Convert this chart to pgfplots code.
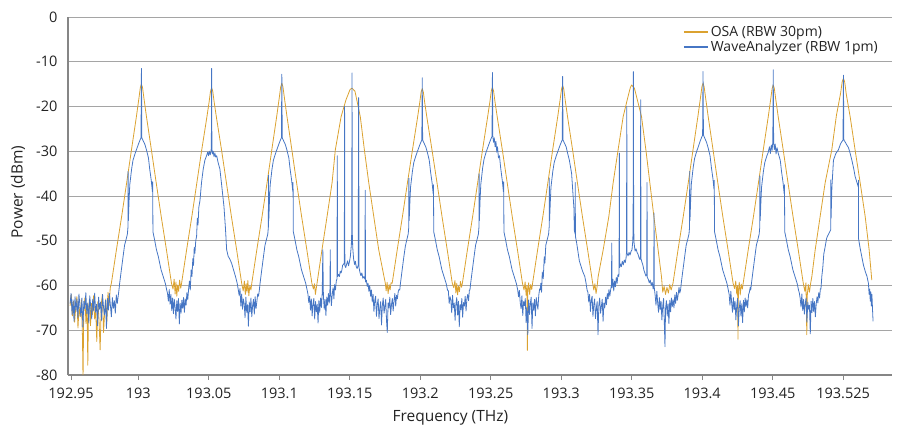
\documentclass[border=0pt]{standalone}
\usepackage{pgfplots}
\pgfplotsset{compat=1.18}
\usepackage{fontspec}
\setmainfont{Open Sans}
\definecolor{osa}{RGB}{219,162,48}
\definecolor{wa}{RGB}{70,118,196}
\definecolor{axgray}{RGB}{134,134,134}
\definecolor{gridgray}{RGB}{165,165,165}
\definecolor{txt}{RGB}{35,35,35}
\begin{document}
\begin{tikzpicture}
\begin{axis}[
  scale only axis, width=824pt, height=358pt,
  xmin=192.9499, xmax=193.5368, ymin=-80, ymax=0,
  axis lines*=left,
  axis line style={draw=axgray, line width=1.5pt},
  xtick={192.9521,193,193.0502,193.1004,193.1506,193.2008,193.2510,193.3012,193.3514,193.4016,193.4518,193.5020},
  xticklabels={192.95,193,193.05,193.1,193.15,193.2,193.25,193.3,193.35,193.4,193.45,193.525},
  ytick={-80,-70,-60,-50,-40,-30,-20,-10,0},
  yticklabels={-80,-70,-60,-50,-40,-30,-20,-10,0},
  ymajorgrids, grid style={draw=gridgray, line width=0.9pt},
  ytick style={draw=none},
  xtick style={draw=axgray, line width=0.9pt},
  tick align=outside, major tick length=5pt,
  ticklabel style={font=\fontsize{14.5}{16}\selectfont, text=txt},
  xticklabel style={yshift=-4pt},
  yticklabel style={xshift=-2pt},
  xlabel={Frequency (THz)}, ylabel={Power (dBm)},
  label style={font=\fontsize{15.5}{17}\selectfont, text=txt},
  xlabel style={at={(axis description cs:0.464,-0.12)}, anchor=center},
  ylabel style={at={(axis description cs:-0.0607,0.511)}, anchor=center},
  legend style={at={(0.7427,0.986)}, anchor=north west, draw=none, fill=none,
    font=\fontsize{14}{16}\selectfont, text=txt, row sep=-1pt},
  legend cell align=left,
  legend image code/.code={\draw[#1, line width=1.6pt] (0pt,0pt) -- (24pt,0pt);},
]
% OSA trace
\addplot[osa, line width=0.8pt, line join=round] coordinates {
(192.9514,-64.5) (192.9522,-62.0) (192.9530,-66.8) (192.9538,-63.5) (192.9546,-68.2) (192.9554,-65.0)
(192.9562,-62.5) (192.9570,-69.5) (192.9578,-64.8) (192.9586,-67.0) (192.9594,-63.2) (192.9602,-71.5)
(192.9606,-81.0) (192.9611,-66.0) (192.9619,-62.8) (192.9627,-68.5) (192.9635,-64.0) (192.9640,-77.8)
(192.9645,-65.5) (192.9652,-63.0) (192.9659,-69.0) (192.9666,-64.0) (192.9673,-66.5) (192.9681,-62.3)
(192.9689,-67.5) (192.9697,-65.8) (192.9704,-72.5) (192.9712,-63.6) (192.9720,-67.8) (192.9728,-74.4)
(192.9736,-64.2) (192.9744,-62.0) (192.9752,-70.5) (192.9760,-66.0) (192.9768,-63.0) (192.9776,-68.0)
(192.9784,-61.5) (192.9792,-64.5) (192.9800,-60.5)
(192.9808,-59.5) (192.9844,-52.0) (192.9881,-44.6) (192.9917,-37.0) (192.9951,-29.7) (192.9986,-22.3)
(193.0004,-18.2) (193.0014,-15.8) (193.0022,-15.0) (193.0030,-15.8) (193.0040,-18.2) (193.0058,-22.3)
(193.0093,-29.7) (193.0127,-37.0) (193.0163,-44.6) (193.0200,-52.0) (193.0236,-59.5)
(193.0247,-60.8) (193.0255,-58.6) (193.0262,-61.9) (193.0268,-59.2) (193.0274,-62.4) (193.0280,-59.9)
(193.0287,-61.3) (193.0294,-58.8) (193.0302,-60.6)
(193.0308,-59.5) (193.0344,-52.0) (193.0381,-44.6) (193.0417,-37.0) (193.0451,-29.8) (193.0486,-22.8)
(193.0504,-19.0) (193.0514,-16.6) (193.0522,-15.8) (193.0530,-16.6) (193.0540,-19.0) (193.0558,-22.8)
(193.0593,-29.8) (193.0627,-37.0) (193.0663,-44.6) (193.0700,-52.0) (193.0736,-59.5)
(193.0747,-61.2) (193.0755,-59.0) (193.0762,-62.0) (193.0768,-59.6) (193.0774,-61.5) (193.0780,-58.9)
(193.0787,-62.3) (193.0794,-60.1) (193.0802,-61.0)
(193.0808,-59.5) (193.0844,-52.0) (193.0881,-44.6) (193.0917,-37.0) (193.0951,-29.6) (193.0986,-22.1)
(193.1004,-18.0) (193.1014,-15.6) (193.1022,-14.8) (193.1030,-15.6) (193.1040,-18.0) (193.1058,-22.1)
(193.1093,-29.6) (193.1127,-37.0) (193.1163,-44.6) (193.1200,-52.0) (193.1236,-59.5)
(193.1247,-60.8) (193.1255,-59.6)
(193.1261,-62.0) (193.1308,-52.0) (193.1344,-44.6) (193.1380,-37.0) (193.1403,-29.7) (193.1444,-22.3)
(193.1479,-18.5) (193.1508,-16.2) (193.1522,-15.9) (193.1543,-16.6) (193.1581,-22.3) (193.1610,-29.7)
(193.1641,-37.0) (193.1677,-44.6) (193.1712,-52.0) (193.1759,-59.5)
(193.1765,-61.2) (193.1772,-59.3) (193.1779,-61.8) (193.1786,-59.8) (193.1793,-61.0) (193.1800,-59.4)
(193.1808,-59.5) (193.1844,-52.0) (193.1881,-44.6) (193.1917,-37.0) (193.1951,-30.0) (193.1986,-23.0)
(193.2004,-19.2) (193.2014,-16.8) (193.2022,-16.0) (193.2030,-16.8) (193.2040,-19.2) (193.2058,-23.0)
(193.2093,-30.0) (193.2127,-37.0) (193.2163,-44.6) (193.2200,-52.0) (193.2236,-59.5)
(193.2247,-60.5) (193.2255,-58.9) (193.2262,-61.7) (193.2268,-59.5) (193.2274,-62.1) (193.2280,-60.2)
(193.2287,-61.4) (193.2294,-59.1) (193.2302,-60.4)
(193.2308,-59.5) (193.2344,-52.0) (193.2381,-44.6) (193.2417,-37.0) (193.2451,-29.8) (193.2486,-22.7)
(193.2504,-18.9) (193.2514,-16.5) (193.2522,-15.7) (193.2530,-16.5) (193.2540,-18.9) (193.2558,-22.7)
(193.2593,-29.8) (193.2627,-37.0) (193.2663,-44.6) (193.2700,-52.0) (193.2736,-59.5)
(193.2747,-61.0) (193.2755,-59.2) (193.2762,-62.2) (193.2768,-60.0) (193.2771,-74.5) (193.2774,-61.6)
(193.2780,-59.4) (193.2787,-62.0) (193.2794,-59.8) (193.2802,-60.9)
(193.2808,-59.5) (193.2844,-52.0) (193.2881,-44.6) (193.2917,-37.0) (193.2951,-29.7) (193.2986,-22.5)
(193.3004,-18.5) (193.3014,-16.1) (193.3022,-15.3) (193.3030,-16.1) (193.3040,-18.5) (193.3058,-22.5)
(193.3093,-29.7) (193.3127,-37.0) (193.3163,-44.6) (193.3200,-52.0) (193.3236,-59.5)
(193.3244,-61.0) (193.3252,-59.6) (193.3260,-61.8) (193.3268,-60.1)
(193.3275,-58.0) (193.3311,-52.0) (193.3351,-44.6) (193.3382,-37.0) (193.3417,-29.7) (193.3453,-22.3)
(193.3486,-18.0) (193.3504,-15.8) (193.3513,-15.2) (193.3533,-15.9) (193.3554,-18.5) (193.3584,-22.3)
(193.3615,-29.7) (193.3643,-37.0) (193.3672,-44.6) (193.3702,-52.0) (193.3726,-58.0)
(193.3735,-61.5) (193.3745,-60.2) (193.3755,-62.0) (193.3765,-60.4) (193.3775,-61.7) (193.3785,-59.8)
(193.3795,-61.0)
(193.3808,-59.5) (193.3844,-52.0) (193.3881,-44.6) (193.3917,-37.0) (193.3951,-29.6) (193.3986,-22.1)
(193.4004,-18.0) (193.4014,-15.6) (193.4022,-14.8) (193.4030,-15.6) (193.4040,-18.0) (193.4058,-22.1)
(193.4093,-29.6) (193.4127,-37.0) (193.4163,-44.6) (193.4200,-52.0) (193.4236,-59.5)
(193.4247,-60.7) (193.4255,-59.0) (193.4262,-61.9) (193.4268,-60.0) (193.4271,-72.0) (193.4274,-61.2)
(193.4280,-59.3) (193.4287,-62.1) (193.4294,-59.7) (193.4302,-60.8)
(193.4308,-59.5) (193.4344,-52.0) (193.4381,-44.6) (193.4417,-37.0) (193.4451,-29.7) (193.4486,-22.4)
(193.4504,-18.4) (193.4514,-16.0) (193.4522,-15.2) (193.4530,-16.0) (193.4540,-18.4) (193.4558,-22.4)
(193.4593,-29.7) (193.4627,-37.0) (193.4663,-44.6) (193.4700,-52.0) (193.4736,-59.5)
(193.4747,-61.3) (193.4755,-59.4) (193.4761,-71.0) (193.4765,-62.0) (193.4772,-59.8) (193.4780,-61.5)
(193.4788,-59.6)
(193.4797,-58.0) (193.4821,-52.0) (193.4856,-44.6) (193.4892,-37.0) (193.4939,-29.7) (193.4972,-22.0)
(193.5002,-17.0) (193.5013,-14.5) (193.5022,-13.7) (193.5031,-14.5) (193.5042,-17.2) (193.5070,-22.3)
(193.5105,-29.7) (193.5141,-37.0) (193.5177,-44.6) (193.5205,-52.0) (193.5224,-58.8)
};
\addlegendentry{OSA (RBW 30pm)}
% WaveAnalyzer trace
\addplot[wa, line width=0.8pt, line join=round] coordinates {
(192.9514,-64.0) (192.9521,-61.8) (192.9528,-66.5) (192.9535,-63.2) (192.9542,-68.0) (192.9549,-62.5)
(192.9556,-65.8) (192.9563,-63.0) (192.9570,-67.2) (192.9577,-61.9) (192.9584,-64.6) (192.9591,-66.9)
(192.9598,-62.8) (192.9605,-69.3) (192.9612,-63.5) (192.9619,-65.2) (192.9626,-61.6) (192.9633,-66.3)
(192.9640,-63.9) (192.9647,-68.4) (192.9654,-62.3) (192.9661,-64.8) (192.9668,-67.5) (192.9675,-63.1)
(192.9682,-65.6) (192.9689,-61.7) (192.9696,-66.0) (192.9703,-64.2) (192.9710,-69.0) (192.9717,-62.6)
(192.9724,-65.3) (192.9731,-63.7) (192.9738,-67.8) (192.9745,-62.0) (192.9752,-64.9) (192.9759,-66.6)
(192.9766,-63.3) (192.9773,-69.6) (192.9780,-62.9) (192.9787,-65.5) (192.9794,-61.8) (192.9801,-64.4)
(192.9808,-67.0) (192.9815,-62.7) (192.9822,-65.1) (192.9829,-63.4) (192.9836,-66.2) (192.9843,-62.1)
(192.9850,-64.0) (192.9856,-62.5)
(192.9862,-61.0) (192.9867,-59.5) (192.9877,-57.0) (192.9891,-53.6) (192.9902,-51.0) (192.9912,-49.8)
(192.9922,-48.5) (192.9926,-47.0) (192.9927,-34.5) (192.9929,-45.5) (192.9934,-41.0) (192.9939,-37.5)
(192.9952,-34.0) (192.9962,-32.0) (192.9977,-30.5) (192.9986,-29.7) (193.0002,-28.3) (193.0012,-27.5)
(193.0019,-27.0) (193.0022,-11.5) (193.0025,-27.0) (193.0032,-27.5) (193.0047,-28.5) (193.0058,-29.7)
(193.0072,-31.5) (193.0081,-34.0) (193.0092,-36.5) (193.0100,-39.0) (193.0102,-36.8) (193.0104,-48.0)
(193.0117,-50.0) (193.0129,-52.0) (193.0142,-53.5) (193.0152,-55.0) (193.0162,-56.5) (193.0177,-58.0)
(193.0192,-59.5) (193.0202,-61.0)
(193.0208,-61.8) (193.0214,-63.5) (193.0220,-60.9) (193.0226,-64.2) (193.0232,-62.0) (193.0238,-65.6)
(193.0244,-62.8) (193.0250,-66.3) (193.0256,-63.1) (193.0262,-64.9) (193.0268,-67.5) (193.0274,-63.4)
(193.0280,-65.8) (193.0286,-62.9) (193.0292,-68.6) (193.0298,-64.0) (193.0304,-66.2) (193.0310,-63.3)
(193.0316,-65.1) (193.0322,-62.7) (193.0328,-66.0) (193.0334,-63.0) (193.0340,-64.4) (193.0346,-61.6)
(193.0352,-63.2) (193.0358,-60.8)
(193.0364,-59.0) (193.0370,-61.0) (193.0376,-56.5) (193.0382,-58.0) (193.0388,-54.0) (193.0393,-55.5)
(193.0398,-51.5) (193.0403,-52.8) (193.0409,-50.0) (193.0415,-49.0) (193.0420,-45.0) (193.0425,-46.5)
(193.0431,-42.5) (193.0439,-41.0) (193.0450,-37.0) (193.0462,-34.0) (193.0474,-32.0) (193.0486,-31.0)
(193.0494,-30.2) (193.0500,-31.0) (193.0506,-30.0) (193.0512,-30.8) (193.0517,-30.2) (193.0520,-29.0)
(193.0522,-11.5) (193.0524,-29.5) (193.0528,-30.6) (193.0533,-30.0) (193.0539,-31.2) (193.0545,-30.4)
(193.0551,-31.3) (193.0558,-31.0) (193.0568,-32.5) (193.0581,-34.0) (193.0595,-38.0) (193.0610,-42.4)
(193.0620,-47.0) (193.0629,-52.0) (193.0640,-53.5) (193.0650,-54.0) (193.0664,-55.0) (193.0678,-56.5)
(193.0692,-58.0) (193.0704,-59.5) (193.0712,-61.0)
(193.0718,-62.2) (193.0724,-60.7) (193.0730,-64.6) (193.0736,-61.9) (193.0742,-65.3) (193.0748,-63.0)
(193.0754,-64.1) (193.0760,-67.2) (193.0766,-62.6) (193.0772,-66.0) (193.0778,-64.3) (193.0784,-69.1)
(193.0790,-63.7) (193.0796,-65.9) (193.0802,-62.8) (193.0808,-67.0) (193.0814,-64.5) (193.0820,-63.1)
(193.0826,-66.4) (193.0832,-62.5) (193.0838,-65.2) (193.0844,-63.6) (193.0850,-61.9) (193.0856,-62.4)
(193.0862,-61.0) (193.0867,-59.5) (193.0877,-57.0) (193.0891,-53.6) (193.0902,-51.0) (193.0912,-49.8)
(193.0922,-48.5) (193.0926,-47.0) (193.0927,-35.3) (193.0929,-45.5) (193.0934,-41.0) (193.0939,-37.5)
(193.0952,-34.0) (193.0962,-32.0) (193.0977,-30.5) (193.0986,-29.7) (193.1002,-28.3) (193.1012,-27.5)
(193.1019,-27.0) (193.1022,-12.8) (193.1025,-27.0) (193.1032,-27.5) (193.1047,-28.5) (193.1058,-29.7)
(193.1072,-31.5) (193.1081,-34.0) (193.1092,-36.5) (193.1100,-39.0) (193.1102,-37.0) (193.1104,-48.0)
(193.1117,-50.0) (193.1129,-52.0) (193.1142,-53.5) (193.1152,-55.0) (193.1162,-56.5) (193.1177,-58.0)
(193.1192,-59.5) (193.1202,-61.0)
(193.1208,-61.9) (193.1214,-63.8) (193.1220,-62.4) (193.1226,-65.5) (193.1232,-63.0) (193.1238,-66.8)
(193.1244,-64.1) (193.1250,-62.9) (193.1256,-67.5) (193.1262,-63.6) (193.1268,-65.9) (193.1274,-64.2)
(193.1280,-68.4) (193.1286,-63.4) (193.1292,-66.0) (193.1298,-62.8) (193.1304,-64.9) (193.1310,-61.5)
(193.1314,-52.0) (193.1318,-62.2) (193.1324,-65.3) (193.1330,-63.1) (193.1336,-66.7) (193.1342,-62.6)
(193.1348,-64.4) (193.1354,-61.8) (193.1360,-63.9) (193.1365,-60.5) (193.1367,-52.0) (193.1369,-61.2)
(193.1375,-64.5) (193.1381,-62.0) (193.1387,-60.5) (193.1393,-63.0) (193.1398,-59.8) (193.1404,-61.0)
(193.1410,-59.0) (193.1415,-58.5) (193.1417,-31.0) (193.1419,-58.0) (193.1425,-57.5) (193.1432,-58.0)
(193.1438,-56.8) (193.1444,-57.2) (193.1450,-56.5) (193.1455,-55.5) (193.1467,-55.0) (193.1469,-20.0)
(193.1471,-55.5) (193.1477,-56.0) (193.1484,-55.2) (193.1490,-54.5) (193.1497,-55.6) (193.1503,-54.8)
(193.1510,-53.5) (193.1517,-51.0) (193.1520,-48.0) (193.1522,-12.5) (193.1524,-48.5) (193.1527,-51.5)
(193.1533,-54.0) (193.1540,-55.3) (193.1546,-54.6) (193.1552,-55.8) (193.1558,-56.2) (193.1566,-55.5)
(193.1569,-18.0) (193.1572,-56.0) (193.1578,-57.0) (193.1585,-57.8) (193.1592,-57.2) (193.1599,-58.4)
(193.1606,-58.0) (193.1614,-58.6) (193.1616,-38.7) (193.1618,-59.2) (193.1624,-58.8) (193.1630,-60.2)
(193.1636,-59.5) (193.1642,-61.3) (193.1648,-60.0) (193.1654,-62.4)
(193.1660,-61.0) (193.1666,-63.7) (193.1672,-62.0) (193.1678,-65.8) (193.1684,-63.3) (193.1690,-62.4)
(193.1696,-66.9) (193.1702,-64.2) (193.1708,-63.0) (193.1714,-67.4) (193.1720,-65.1) (193.1726,-63.6)
(193.1732,-68.8) (193.1738,-64.4) (193.1744,-62.8) (193.1750,-66.2) (193.1756,-64.7) (193.1762,-63.1)
(193.1768,-68.0) (193.1773,-70.5) (193.1779,-63.9) (193.1785,-65.0) (193.1791,-62.6) (193.1797,-66.5)
(193.1803,-64.3) (193.1809,-62.9) (193.1815,-65.7) (193.1821,-63.4) (193.1827,-61.8) (193.1833,-64.6)
(193.1839,-62.2) (193.1845,-63.0) (193.1851,-61.4) (193.1856,-60.9)
(193.1862,-61.0) (193.1867,-59.5) (193.1877,-57.0) (193.1891,-53.6) (193.1902,-51.2) (193.1912,-49.8)
(193.1922,-48.5) (193.1926,-47.0) (193.1927,-36.0) (193.1929,-45.5) (193.1934,-41.5) (193.1939,-38.0)
(193.1952,-34.5) (193.1962,-32.5) (193.1977,-31.0) (193.1986,-30.2) (193.2002,-28.8) (193.2012,-28.0)
(193.2019,-27.5) (193.2022,-13.6) (193.2025,-27.5) (193.2032,-28.0) (193.2047,-29.0) (193.2058,-30.2)
(193.2072,-32.0) (193.2081,-34.5) (193.2092,-37.0) (193.2100,-39.5) (193.2102,-37.5) (193.2104,-48.0)
(193.2117,-50.0) (193.2129,-52.0) (193.2142,-53.5) (193.2152,-55.0) (193.2162,-56.5) (193.2177,-58.0)
(193.2192,-59.5) (193.2202,-61.0)
(193.2208,-61.2) (193.2214,-64.0) (193.2220,-62.5) (193.2226,-63.3) (193.2232,-66.1) (193.2238,-62.2)
(193.2244,-65.0) (193.2250,-63.9) (193.2256,-67.8) (193.2262,-64.1) (193.2268,-62.7) (193.2274,-66.6)
(193.2280,-63.5) (193.2286,-69.2) (193.2292,-64.3) (193.2298,-65.4) (193.2304,-62.9) (193.2310,-67.1)
(193.2316,-63.8) (193.2322,-64.6) (193.2328,-62.4) (193.2334,-65.7) (193.2340,-63.0) (193.2346,-62.0)
(193.2352,-63.4) (193.2358,-61.0)
(193.2362,-61.0) (193.2367,-59.5) (193.2377,-57.0) (193.2391,-53.6) (193.2402,-51.0) (193.2412,-49.8)
(193.2422,-48.5) (193.2426,-47.0) (193.2427,-35.0) (193.2429,-45.5) (193.2434,-41.0) (193.2439,-37.5)
(193.2452,-33.8) (193.2462,-31.8) (193.2477,-30.2) (193.2486,-29.4) (193.2502,-28.0) (193.2512,-27.2)
(193.2519,-26.7) (193.2522,-12.4) (193.2525,-26.7) (193.2530,-28.0) (193.2535,-27.0) (193.2541,-29.0)
(193.2547,-27.8) (193.2553,-30.2) (193.2558,-29.0) (193.2565,-31.5) (193.2572,-31.0) (193.2581,-33.8)
(193.2592,-36.5) (193.2600,-39.0) (193.2602,-36.8) (193.2604,-48.0) (193.2617,-50.0) (193.2629,-52.0)
(193.2642,-53.5) (193.2652,-55.0) (193.2662,-56.5) (193.2677,-58.0) (193.2692,-59.5) (193.2702,-61.0)
(193.2708,-62.5) (193.2714,-61.1) (193.2720,-63.8) (193.2726,-65.2) (193.2732,-62.3) (193.2738,-66.7)
(193.2744,-63.6) (193.2750,-64.5) (193.2756,-62.9) (193.2762,-68.3) (193.2768,-64.8) (193.2774,-71.0)
(193.2780,-63.2) (193.2786,-66.5) (193.2792,-64.0) (193.2798,-62.6) (193.2804,-69.6) (193.2810,-63.9)
(193.2816,-65.5) (193.2822,-63.1) (193.2828,-66.8) (193.2834,-62.7) (193.2840,-64.2) (193.2846,-65.3)
(193.2852,-62.2) (193.2858,-60.8)
(193.2862,-61.0) (193.2867,-59.5) (193.2872,-61.5) (193.2877,-57.0) (193.2884,-58.5) (193.2891,-53.6)
(193.2896,-55.0) (193.2902,-51.0) (193.2912,-49.8) (193.2922,-48.5) (193.2926,-47.0) (193.2927,-36.0)
(193.2929,-45.5) (193.2934,-41.5) (193.2939,-38.0) (193.2952,-34.5) (193.2962,-32.5) (193.2977,-31.0)
(193.2986,-30.2) (193.3002,-28.8) (193.3012,-28.0) (193.3019,-27.5) (193.3022,-13.3) (193.3025,-27.5)
(193.3032,-28.0) (193.3047,-29.0) (193.3058,-30.5) (193.3070,-32.0) (193.3086,-35.0) (193.3103,-43.0)
(193.3105,-47.6) (193.3111,-48.5) (193.3112,-37.0) (193.3113,-49.0) (193.3122,-50.5) (193.3141,-54.5)
(193.3164,-56.8) (193.3180,-58.0) (193.3189,-59.5) (193.3196,-61.0)
(193.3202,-61.5) (193.3208,-63.7) (193.3214,-62.0) (193.3220,-65.8) (193.3226,-63.3) (193.3232,-62.4)
(193.3238,-66.9) (193.3244,-64.2) (193.3250,-63.0) (193.3256,-67.4) (193.3262,-65.1) (193.3268,-63.6)
(193.3274,-71.0) (193.3280,-64.4) (193.3286,-62.8) (193.3292,-66.2) (193.3298,-64.7) (193.3304,-63.1)
(193.3310,-68.0) (193.3316,-63.9) (193.3322,-65.0) (193.3328,-62.6) (193.3334,-64.3) (193.3340,-61.8)
(193.3346,-63.0) (193.3352,-60.9) (193.3358,-62.4) (193.3364,-61.0)
(193.3370,-59.8) (193.3372,-50.5) (193.3374,-60.5) (193.3380,-58.6) (193.3386,-61.2) (193.3392,-59.0)
(193.3398,-60.3) (193.3404,-58.2) (193.3410,-59.5) (193.3416,-57.6) (193.3422,-58.0) (193.3424,-56.5)
(193.3426,-30.4) (193.3428,-56.0) (193.3434,-55.2) (193.3440,-55.8) (193.3447,-54.6) (193.3454,-55.4)
(193.3461,-54.3) (193.3468,-54.9) (193.3474,-53.8) (193.3477,-52.5) (193.3479,-20.0) (193.3481,-52.8)
(193.3488,-53.4) (193.3495,-52.6) (193.3502,-53.2) (193.3509,-52.4) (193.3516,-52.0) (193.3522,-50.0)
(193.3524,-46.0) (193.3526,-12.2) (193.3528,-47.0) (193.3531,-50.5) (193.3538,-52.3) (193.3545,-51.8)
(193.3552,-52.6) (193.3559,-53.0) (193.3566,-53.8) (193.3573,-54.2) (193.3576,-53.5) (193.3578,-18.5)
(193.3580,-54.0) (193.3587,-54.8) (193.3594,-55.5) (193.3601,-56.6) (193.3608,-57.2) (193.3615,-57.9)
(193.3621,-57.5) (193.3623,-37.0) (193.3625,-58.2) (193.3632,-58.6) (193.3639,-59.4) (193.3646,-58.8)
(193.3653,-60.0) (193.3660,-59.3) (193.3667,-60.8) (193.3671,-59.5) (193.3673,-43.8) (193.3675,-60.5)
(193.3681,-62.2)
(193.3687,-64.4) (193.3693,-61.3) (193.3699,-63.9) (193.3705,-66.0) (193.3711,-62.7) (193.3717,-65.4)
(193.3723,-63.5) (193.3729,-67.7) (193.3735,-64.6) (193.3741,-62.9) (193.3747,-69.0) (193.3751,-73.7)
(193.3755,-65.2) (193.3761,-63.4) (193.3767,-66.8) (193.3773,-64.1) (193.3779,-68.5) (193.3785,-63.3)
(193.3791,-65.9) (193.3797,-62.8) (193.3803,-64.7) (193.3809,-63.2) (193.3815,-65.0) (193.3821,-62.1)
(193.3827,-64.0) (193.3833,-61.5) (193.3839,-63.3) (193.3845,-62.0) (193.3851,-60.4) (193.3856,-61.7)
(193.3862,-61.0) (193.3867,-59.5) (193.3877,-57.0) (193.3891,-53.6) (193.3902,-51.0) (193.3912,-49.8)
(193.3922,-48.5) (193.3926,-47.0) (193.3927,-34.5) (193.3929,-45.5) (193.3934,-40.8) (193.3939,-37.2)
(193.3952,-33.6) (193.3962,-31.6) (193.3977,-30.0) (193.3986,-29.2) (193.4002,-27.7) (193.4012,-26.9)
(193.4019,-26.4) (193.4022,-12.2) (193.4025,-26.4) (193.4032,-26.9) (193.4047,-28.0) (193.4058,-29.2)
(193.4072,-31.0) (193.4081,-33.5) (193.4092,-36.0) (193.4100,-38.5) (193.4102,-36.5) (193.4104,-48.0)
(193.4117,-50.0) (193.4129,-52.0) (193.4142,-53.5) (193.4152,-55.0) (193.4162,-56.5) (193.4177,-58.0)
(193.4192,-59.5) (193.4202,-61.0)
(193.4208,-62.0) (193.4214,-64.4) (193.4220,-61.3) (193.4226,-63.9) (193.4232,-66.0) (193.4238,-62.7)
(193.4244,-65.4) (193.4250,-63.5) (193.4256,-67.7) (193.4262,-64.6) (193.4268,-62.9) (193.4274,-69.0)
(193.4280,-65.2) (193.4286,-63.4) (193.4292,-66.8) (193.4298,-64.1) (193.4304,-68.3) (193.4310,-63.3)
(193.4316,-65.9) (193.4322,-62.8) (193.4328,-64.7) (193.4334,-63.2) (193.4340,-65.0) (193.4346,-62.1)
(193.4352,-61.5) (193.4358,-60.4)
(193.4362,-61.0) (193.4367,-59.5) (193.4377,-57.0) (193.4391,-53.6) (193.4402,-51.0) (193.4412,-49.8)
(193.4422,-48.5) (193.4426,-47.0) (193.4427,-35.5) (193.4429,-45.5) (193.4434,-41.5) (193.4439,-38.0)
(193.4452,-34.5) (193.4462,-32.5) (193.4477,-31.0) (193.4486,-30.3) (193.4495,-29.0) (193.4502,-30.5)
(193.4508,-28.6) (193.4514,-29.8) (193.4519,-27.9) (193.4522,-11.8) (193.4525,-28.0) (193.4530,-29.6)
(193.4536,-28.4) (193.4542,-30.6) (193.4549,-29.2) (193.4558,-30.5) (193.4572,-32.0) (193.4581,-34.5)
(193.4592,-37.0) (193.4600,-39.5) (193.4602,-37.5) (193.4604,-48.0) (193.4617,-50.0) (193.4629,-52.0)
(193.4642,-53.5) (193.4652,-55.0) (193.4662,-56.5) (193.4677,-58.0) (193.4692,-59.5) (193.4702,-61.0)
(193.4708,-61.7) (193.4714,-62.9) (193.4720,-64.8) (193.4726,-61.9) (193.4732,-65.6) (193.4738,-63.1)
(193.4744,-66.4) (193.4750,-64.0) (193.4756,-62.8) (193.4762,-68.2) (193.4768,-63.7) (193.4774,-65.3)
(193.4780,-64.4) (193.4786,-70.8) (193.4792,-63.5) (193.4798,-66.1) (193.4804,-62.9) (193.4810,-65.8)
(193.4816,-63.6) (193.4822,-67.0) (193.4828,-64.2) (193.4834,-62.5) (193.4840,-63.9) (193.4846,-61.6)
(193.4852,-62.8) (193.4858,-60.7)
(193.4862,-60.8) (193.4868,-58.0) (193.4875,-56.0) (193.4882,-53.0) (193.4892,-51.3) (193.4902,-49.5)
(193.4908,-49.0) (193.4931,-47.6) (193.4932,-36.4) (193.4934,-45.0) (193.4940,-38.0) (193.4951,-32.0)
(193.4968,-30.5) (193.4986,-29.7) (193.5002,-28.3) (193.5012,-27.8) (193.5019,-27.5) (193.5022,-13.0)
(193.5025,-27.5) (193.5032,-27.8) (193.5046,-28.6) (193.5058,-29.2) (193.5070,-30.5) (193.5082,-32.0)
(193.5096,-34.0) (193.5105,-35.6) (193.5128,-38.0) (193.5129,-36.5) (193.5130,-49.6) (193.5140,-51.5)
(193.5153,-53.6) (193.5165,-55.5) (193.5177,-56.8) (193.5190,-58.0) (193.5200,-59.5) (193.5205,-62.0)
(193.5209,-60.8) (193.5213,-63.5) (193.5217,-61.4) (193.5221,-64.6) (193.5225,-62.0) (193.5229,-65.2)
(193.5233,-68.0)
};
\addlegendentry{WaveAnalyzer (RBW 1pm)}
\end{axis}
\pgfresetboundingbox
\path[use as bounding box] ([shift={(-68pt,-59pt)}]current axis.south west) rectangle ([shift={(15pt,17pt)}]current axis.north east);
\end{tikzpicture}
\end{document}
